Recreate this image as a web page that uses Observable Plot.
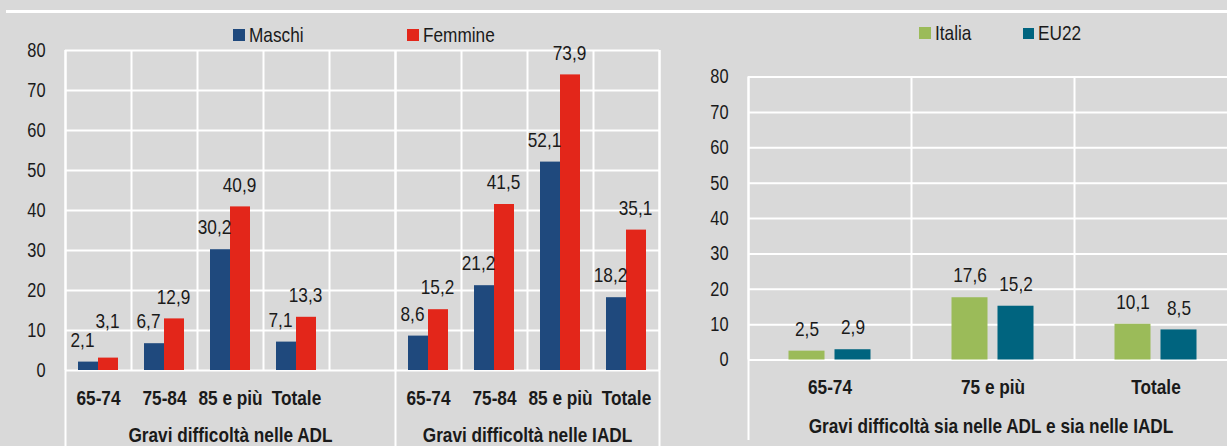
<!DOCTYPE html>
<html><head><meta charset="utf-8">
<script src="https://cdn.jsdelivr.net/npm/d3@7"></script>
<script src="https://cdn.jsdelivr.net/npm/@observablehq/plot@0.6"></script>
<style>
html,body{margin:0;padding:0;background:#d9d9d9;overflow:hidden;}
#wrap{position:relative;width:1227px;height:446px;overflow:hidden;background:#d9d9d9;
  font-family:"Liberation Sans",Arial,sans-serif;color:#1a1a1a;}
.topline{position:absolute;left:6px;top:10px;width:1221px;height:3px;background:#fff;}
.chart{position:absolute;top:0;}
.leg{position:absolute;font-size:21px;line-height:20px;display:flex;align-items:center;white-space:nowrap;z-index:2}
.sw{display:inline-block;width:12px;height:12px;margin-right:4px;flex:none}
.lt{display:inline-block;transform:scaleX(0.82);transform-origin:left center}
</style></head><body><div id="wrap"><div class="topline"></div></div>
<script>
// ---- data ----
const groupsLeft = ["Gravi difficoltà nelle ADL", "Gravi difficoltà nelle IADL"];
const ageLeft = ["65-74", "75-84", "85 e più", "Totale"];
const seriesLeft = ["Maschi", "Femmine"];
const maschiADL = [2.1, 6.7, 30.2, 7.1];
const femmineADL = [3.1, 12.9, 40.9, 13.3];
const maschiIADL = [8.6, 21.2, 52.1, 18.2];
const femmineIADL = [15.2, 41.5, 73.9, 35.1];

const groupRight = "Gravi difficoltà sia nelle ADL e sia nelle IADL";
const ageRight = ["65-74", "75 e più", "Totale"];
const seriesRight = ["Italia", "EU22"];
const italia = [2.5, 17.6, 10.1];
const eu22 = [2.9, 15.2, 8.5];

const yTicks = [0, 10, 20, 30, 40, 50, 60, 70, 80];

// ---- style ----
const FONT = '"Liberation Sans",Arial,sans-serif';
const NARROW = 0.82; // mimic a narrow face by condensing glyphs
const INK = "#1a1a1a";
const C_M = "#1f497d", C_F = "#e3261a", C_IT = "#9bbb59", C_EU = "#00647f";
const fmt = v => String(v).replace(".", ",");

// ---- left chart ----
const gapSlots = ageLeft.length + 1; // IADL block starts after an empty slot
const nSlots = ageLeft.length * 2 + 1;
const rowsM = [...maschiADL.map((v, i) => ({slot: i, value: v})), ...maschiIADL.map((v, i) => ({slot: i + gapSlots, value: v}))];
const rowsF = [...femmineADL.map((v, i) => ({slot: i, value: v})), ...femmineIADL.map((v, i) => ({slot: i + gapSlots, value: v}))];
const catsL = [...ageLeft.map((c, i) => ({slot: i, label: c})), ...ageLeft.map((c, i) => ({slot: i + gapSlots, label: c}))];
const groupsL = [
  {x: (0 + gapSlots) / 2, label: groupsLeft[0]},
  {x: (gapSlots + nSlots) / 2, label: groupsLeft[1]}
];
// the first "Femmine" label is lifted in the original to clear its neighbour
const liftedF = d => d.slot === 0;

const grid = {stroke: "white", strokeOpacity: 1, strokeWidth: 2};

const left = Plot.plot({
  width: 680, height: 446,
  marginLeft: 65, marginRight: 21, marginTop: 50, marginBottom: 76,
  style: {background: "transparent", fontFamily: FONT, color: INK, overflow: "visible"},
  x: {domain: [0, nSlots], axis: null},
  y: {domain: [0, 80], axis: null},
  marks: [
    Plot.gridY(yTicks, grid),
    Plot.gridX(d3.range(0, nSlots + 1), grid),
    Plot.ruleX([0, gapSlots, nSlots], {...grid, insetBottom: -76}),
    Plot.rectY(rowsM, {x: "slot", interval: 1, y: "value", fill: C_M, insetLeft: 13, insetRight: 33}),
    Plot.rectY(rowsF, {x: "slot", interval: 1, y: "value", fill: C_F, insetLeft: 33, insetRight: 13}),
    Plot.text(rowsM, {x: d => d.slot + 0.5, y: "value", text: d => fmt(d.value), dx: -16, dy: -22, fontSize: 21, fill: INK}),
    Plot.text(rowsF.filter(d => !liftedF(d)), {x: d => d.slot + 0.5, y: "value", text: d => fmt(d.value), dx: 9, dy: -22, fontSize: 21, fill: INK}),
    Plot.text(rowsF.filter(liftedF), {x: d => d.slot + 0.5, y: "value", text: d => fmt(d.value), dx: 9, dy: -37, fontSize: 21, fill: INK}),
    Plot.text(yTicks, {x: 0, y: d => d, text: d => String(d), dx: -20, textAnchor: "end", fontSize: 20, fill: INK}),
    Plot.text(catsL, {x: d => d.slot + 0.5, y: 0, text: "label", dy: 28, fontSize: 21, fontWeight: "bold", fill: INK}),
    Plot.text(groupsL, {x: "x", y: 0, text: "label", dy: 65, fontSize: 21, fontWeight: "bold", fill: INK})
  ]
});
left.classList.add("chart");
left.style.left = "0px";

// ---- right chart ----
const rowsIT = italia.map((v, i) => ({slot: i, value: v}));
const rowsEU = eu22.map((v, i) => ({slot: i, value: v}));
const catsR = ageRight.map((c, i) => ({slot: i, label: c}));

const right = Plot.plot({
  width: 547, height: 446,
  marginLeft: 68, marginRight: -10, marginTop: 76.5, marginBottom: 86.5,
  style: {background: "transparent", fontFamily: FONT, color: INK, overflow: "visible"},
  x: {domain: [0, ageRight.length], axis: null},
  y: {domain: [0, 80], axis: null},
  marks: [
    Plot.gridY(yTicks, grid),
    Plot.gridX(d3.range(0, ageRight.length + 1), grid),
    Plot.ruleX([0], {...grid, insetBottom: -80.5}),
    Plot.rectY(rowsIT, {x: "slot", interval: 1, y: "value", fill: C_IT, insetLeft: 40.5, insetRight: 86.5}),
    Plot.rectY(rowsEU, {x: "slot", interval: 1, y: "value", fill: C_EU, insetLeft: 86.5, insetRight: 40.5}),
    Plot.text(rowsIT, {x: d => d.slot + 0.5, y: "value", text: d => fmt(d.value), dx: -23, dy: -22, fontSize: 21, fill: INK}),
    Plot.text(rowsEU, {x: d => d.slot + 0.5, y: "value", text: d => fmt(d.value), dx: 23, dy: -22, fontSize: 21, fill: INK}),
    Plot.text(yTicks, {x: 0, y: d => d, text: d => String(d), dx: -20, textAnchor: "end", fontSize: 20, fill: INK}),
    Plot.text(catsR, {x: d => d.slot + 0.5, y: 0, text: "label", dy: 27.5, fontSize: 21, fontWeight: "bold", fill: INK}),
    Plot.text([groupRight], {x: 1.5, y: 0, text: d => d, dx: -2, dy: 66, fontSize: 21, fontWeight: "bold", fill: INK})
  ]
});
right.classList.add("chart");
right.style.left = "680px";

const wrap = document.getElementById("wrap");
wrap.appendChild(left);
wrap.appendChild(right);

// condense SVG text glyphs (narrow face look)
for (const svg of [left, right]) {
  for (const t of svg.querySelectorAll("text")) {
    const L = t.getComputedTextLength();
    if (L > 0) {
      t.setAttribute("textLength", (L * NARROW).toFixed(2));
      t.setAttribute("lengthAdjust", "spacingAndGlyphs");
    }
  }
}

// ---- legends ----
function legendItem(label, color, x, yc, size) {
  const d = document.createElement("div");
  d.className = "leg";
  d.style.left = x + "px";
  d.style.top = (yc - 10) + "px";
  d.innerHTML = `<span class="sw" style="background:${color};width:${size}px;height:${size}px"></span><span class="lt">${label}</span>`;
  wrap.appendChild(d);
}
legendItem(seriesLeft[0], C_M, 233, 35, 12);
legendItem(seriesLeft[1], C_F, 407, 35, 12);
legendItem(seriesRight[0], C_IT, 919, 33, 12);
legendItem(seriesRight[1], C_EU, 1023, 33, 11);
</script>
</body></html>
